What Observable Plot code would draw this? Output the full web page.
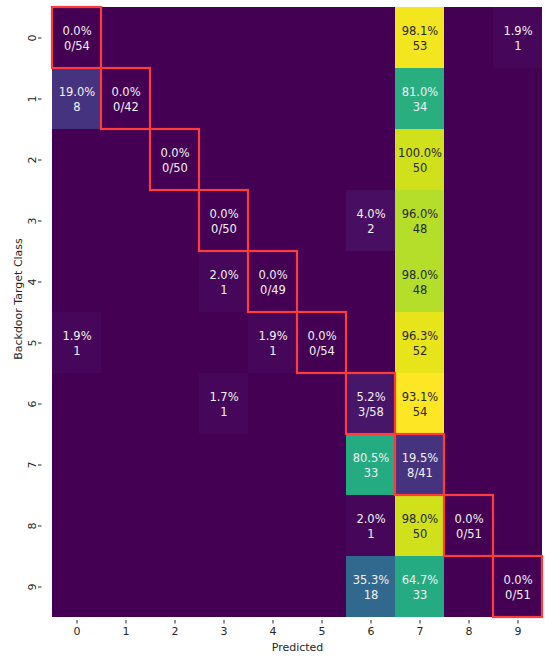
<!DOCTYPE html>
<html>
<head>
<meta charset="utf-8">
<script src="https://cdn.jsdelivr.net/npm/d3@7"></script>
<script src="https://cdn.jsdelivr.net/npm/@observablehq/plot@0.6"></script>
<style>
  html, body { margin: 0; padding: 0; background: #fff; }
  #chart svg { display: block; }
</style>
</head>
<body>
<div id="chart"></div>
<script>
// Class labels shared by both axes
const classes = [0, 1, 2, 3, 4, 5, 6, 7, 8, 9];

// Prediction counts per backdoor target class (rows) by predicted class (columns)
const row0 = [0, 0, 0, 0, 0, 0, 0, 53, 0, 1];
const row1 = [8, 0, 0, 0, 0, 0, 0, 34, 0, 0];
const row2 = [0, 0, 0, 0, 0, 0, 0, 50, 0, 0];
const row3 = [0, 0, 0, 0, 0, 0, 2, 48, 0, 0];
const row4 = [0, 0, 0, 1, 0, 0, 0, 48, 0, 0];
const row5 = [1, 0, 0, 0, 1, 0, 0, 52, 0, 0];
const row6 = [0, 0, 0, 1, 0, 0, 3, 54, 0, 0];
const row7 = [0, 0, 0, 0, 0, 0, 33, 8, 0, 0];
const row8 = [0, 0, 0, 0, 0, 0, 1, 50, 0, 0];
const row9 = [0, 0, 0, 0, 0, 0, 18, 33, 0, 0];
const countRows = [row0, row1, row2, row3, row4, row5, row6, row7, row8, row9];

// Colour range of the heatmap
const colorMin = 0;
const colorMax = 54;

// Flatten into one record per cell
const cells = [];
countRows.forEach((row, i) => {
  const total = d3.sum(row);
  row.forEach((count, j) => {
    const diag = i === j;
    const pct = (100 * count / total).toFixed(1) + "%";
    const label = diag
      ? `${pct}\n${count}/${total}`
      : (count > 0 ? `${pct}\n${count}` : "");
    cells.push({ target: classes[i], predicted: classes[j], count, diag, label });
  });
});

// Relative luminance, used to pick a readable text colour per cell
function luminance(color) {
  const c = d3.rgb(color);
  const lin = v => { v /= 255; return v <= 0.03928 ? v / 12.92 : Math.pow((v + 0.055) / 1.055, 2.4); };
  return 0.2126 * lin(c.r) + 0.7152 * lin(c.g) + 0.0722 * lin(c.b);
}
const cellColor = v => d3.interpolateViridis((v - colorMin) / (colorMax - colorMin));
const textColor = d => luminance(cellColor(d.count)) > 0.408 ? "#262626" : "#f2f2f2";

const font = "'DejaVu Sans', sans-serif";

const chart = Plot.plot({
  width: 545,
  height: 658,
  marginLeft: 49,
  marginRight: 0,
  marginTop: 3,
  marginBottom: 38,
  style: { fontFamily: font, fontSize: "11px", color: "#262626", background: "#fff" },
  x: { domain: classes, padding: 0, label: null },
  y: { domain: classes, padding: 0, label: null },
  color: { type: "linear", scheme: "viridis", domain: [colorMin, colorMax] },
  marks: [
    Plot.cell(cells, { x: "predicted", y: "target", fill: "count", shapeRendering: "crispEdges" }),
    Plot.text(cells.filter(d => d.label), {
      x: "predicted", y: "target", text: "label",
      fill: textColor, fontFamily: font, fontSize: 11.5, lineHeight: 1.22
    }),
    Plot.cell(cells.filter(d => d.diag), {
      x: "predicted", y: "target", fill: "none", stroke: "#ff3b3b", strokeWidth: 2.2
    }),
    Plot.axisX({ ticks: classes, tickSize: 3.5, tickPadding: 3, fontSize: 11, fontFamily: font, label: null }),
    Plot.axisY({ ticks: classes, tickSize: 3.5, tickPadding: 3, fontSize: 11, fontFamily: font, tickRotate: -90, label: null, textAnchor: "middle", dx: -7.5 }),
    Plot.text(["Predicted"], { frameAnchor: "bottom", dy: 30, fontSize: 11, fontFamily: font, fill: "#262626" }),
    Plot.text(["Backdoor Target Class"], {
      frameAnchor: "left", textAnchor: "middle", dx: -31, dy: -13, rotate: -90,
      fontSize: 11, fontFamily: font, fill: "#262626", ariaLabel: "y-title"
    })
  ]
});

// Stretch the vertical axis title along its length
d3.select(chart).selectAll('g[aria-label="y-title"] text')
  .attr("textLength", 153)
  .attr("lengthAdjust", "spacingAndGlyphs");

document.getElementById("chart").appendChild(chart);
</script>
</body>
</html>
